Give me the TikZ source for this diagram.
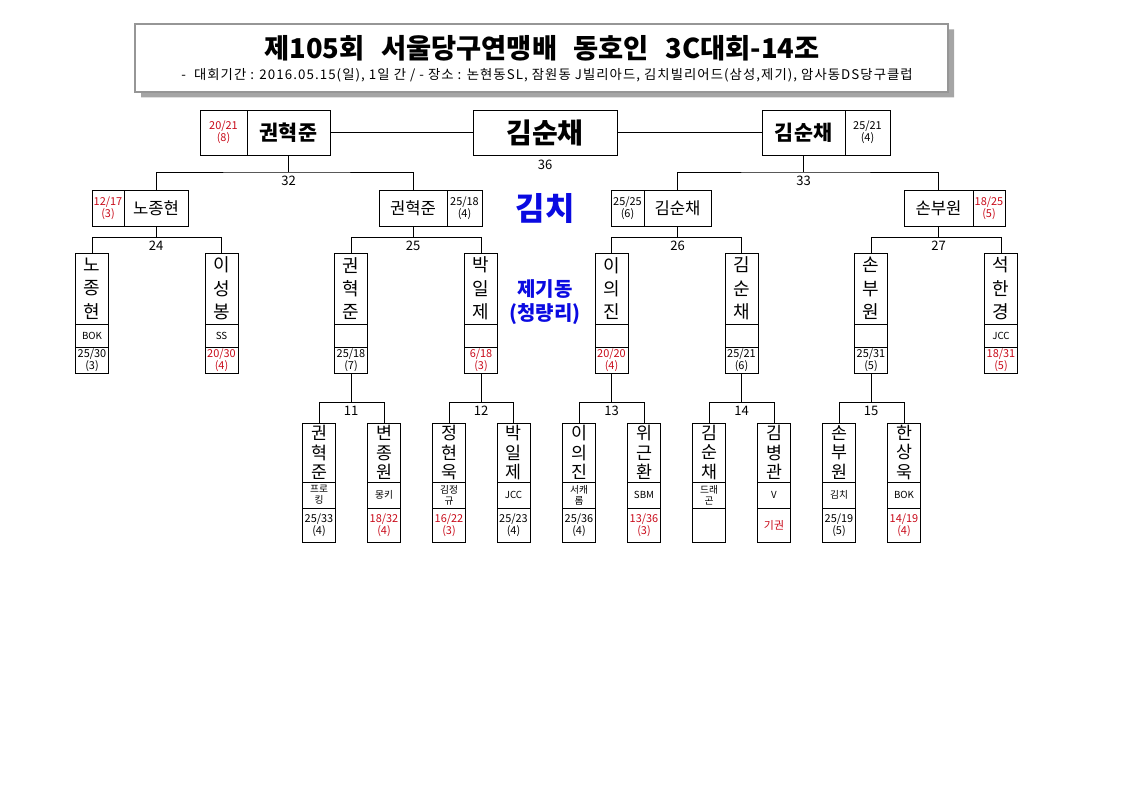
\documentclass[tikz,border=0pt]{standalone}
\usepackage{fontspec}
\setmainfont{Noto Sans CJK KR}
\newfontfamily\subfont[LetterSpace=8]{Noto Sans CJK KR}
\usetikzlibrary{shapes.misc,shadows}
\definecolor{losered}{RGB}{200,10,25}
\definecolor{venueblue}{RGB}{10,10,225}
\definecolor{framegray}{RGB}{150,150,150}
\definecolor{shadegray}{RGB}{165,165,165}

\begin{document}
\begin{tikzpicture}[x=0.75pt, y=-0.75pt,
    cell/.style 2 args={draw, line width=0.6pt, inner sep=0pt, align=center,
      minimum width=#1*0.75pt, minimum height=#2*0.75pt},
    head/.style={chamfered rectangle, chamfered rectangle xsep=3pt, chamfered rectangle ysep=3pt,
      draw=framegray, fill=white, line width=0.8pt, inner sep=0pt,
      minimum width=813*0.75pt, minimum height=68*0.75pt,
      drop shadow={shadow xshift=4.5pt, shadow yshift=-4pt, fill=shadegray, opacity=1}},
    bigname/.style={font=\fontsize{15.5}{17}\selectfont\bfseries},
    champ/.style={font=\fontsize{21}{23}\selectfont\bfseries},
    midname/.style={font=\fontsize{12.5}{14}\selectfont},
    colname/.style={font=\fontsize{13.5}{17.5}\selectfont},
    lowname/.style={font=\fontsize{13}{14.4}\selectfont},
    club/.style={font=\fontsize{7.3}{8.2}\selectfont},
    score/.style={font=\fontsize{8.2}{9}\selectfont},
    lose/.style={text=losered},
    num/.style={font=\fontsize{9.8}{11}\selectfont, inner sep=1pt},
    venue/.style={text=venueblue, align=center},
    link/.style={line width=0.6pt}
  ]
  \useasboundingbox (0,0) rectangle (1123,794);

  % heading
  \node[head] (hd) at (541.5,58) {};
  \node[font=\fontsize{20.5}{22}\selectfont\bfseries] (ttl) at (542,48)
    {제105회\hspace{0.6em}서울당구연맹배\hspace{0.6em}동호인\hspace{0.6em}3C대회-14조};
  \node[font=\fontsize{10}{11}\selectfont\subfont] (sub) at (547,75)
    {-\ \ 대회기간 : 2016.05.15(일), 1일 간 / - 장소 : 논현동SL, 잠원동 J빌리아드, 김치빌리어드(삼성,제기), 암사동DS당구클럽};

  % final
  \node[cell={47}{45}, score, lose] (w32s) at (223.5,132.5) {20/21\\(8)};
  \node[cell={83}{45}, bigname] (w32) at (288.5,132.5) {권혁준};
  \node[cell={144}{45}, champ] (w36) at (545,132.5) {김순채};
  \node[cell={83}{45}, bigname] (w33) at (803.5,132.5) {김순채};
  \node[cell={45}{45}, score] (w33s) at (867.5,132.5) {25/21\\(4)};
  \node[num] (l36) at (545,165) {36};

  % semi finals
  \node[cell={32}{36}, score, lose] (w24s) at (108,208) {12/17\\(3)};
  \node[cell={64}{36}, midname] (w24) at (156,208) {노종현};
  \node[cell={68}{36}, midname] (w25) at (413,208) {권혁준};
  \node[cell={35}{36}, score] (w25s) at (464.5,208) {25/18\\(4)};
  \node[cell={33}{36}, score] (w26s) at (627.5,208) {25/25\\(6)};
  \node[cell={67}{36}, midname] (w26) at (677.5,208) {김순채};
  \node[cell={69}{36}, midname] (w27) at (938.5,208) {손부원};
  \node[cell={32}{36}, score, lose] (w27s) at (989,208) {18/25\\(5)};

  \node[venue, font=\fontsize{24}{26}\selectfont\bfseries] (kc) at (545,208) {김치};
  \node[venue, font=\fontsize{15}{18}\selectfont\bfseries] (jg) at (545,302) {제기동\\(청량리)};

  % quarter finals
  \node[cell={33}{71}, colname] (q1) at (92,288.5) {노\\종\\현};
  \node[cell={33}{23}, club] (q1c) at (92,335.5) {BOK};
  \node[cell={33}{26}, score] (q1s) at (92,360) {25/30\\(3)};
  \node[cell={33}{71}, colname] (q2) at (221.5,288.5) {이\\성\\봉};
  \node[cell={33}{23}, club] (q2c) at (221.5,335.5) {SS};
  \node[cell={33}{26}, score, lose] (q2s) at (221.5,360) {20/30\\(4)};
  \node[cell={33}{71}, colname] (q3) at (351,288.5) {권\\혁\\준};
  \node[cell={33}{23}, club] (q3c) at (351,335.5) {};
  \node[cell={33}{26}, score] (q3s) at (351,360) {25/18\\(7)};
  \node[cell={33}{71}, colname] (q4) at (481,288.5) {박\\일\\제};
  \node[cell={33}{23}, club] (q4c) at (481,335.5) {};
  \node[cell={33}{26}, score, lose] (q4s) at (481,360) {6/18\\(3)};
  \node[cell={33}{71}, colname] (q5) at (611.5,288.5) {이\\의\\진};
  \node[cell={33}{23}, club] (q5c) at (611.5,335.5) {};
  \node[cell={33}{26}, score, lose] (q5s) at (611.5,360) {20/20\\(4)};
  \node[cell={33}{71}, colname] (q6) at (741.5,288.5) {김\\순\\채};
  \node[cell={33}{23}, club] (q6c) at (741.5,335.5) {};
  \node[cell={33}{26}, score] (q6s) at (741.5,360) {25/21\\(6)};
  \node[cell={33}{71}, colname] (q7) at (871,288.5) {손\\부\\원};
  \node[cell={33}{23}, club] (q7c) at (871,335.5) {};
  \node[cell={33}{26}, score] (q7s) at (871,360) {25/31\\(5)};
  \node[cell={33}{71}, colname] (q8) at (1001,288.5) {석\\한\\경};
  \node[cell={33}{23}, club] (q8c) at (1001,335.5) {JCC};
  \node[cell={33}{26}, score, lose] (q8s) at (1001,360) {18/31\\(5)};

  % first round
  \node[cell={33}{59}, lowname] (r1) at (319,452.5) {권\\혁\\준};
  \node[cell={33}{26}, club] (r1c) at (319,495) {프로\\킹};
  \node[cell={33}{34}, score] (r1s) at (319,525) {25/33\\(4)};
  \node[cell={33}{59}, lowname] (r2) at (384,452.5) {변\\종\\원};
  \node[cell={33}{26}, club] (r2c) at (384,495) {몽키};
  \node[cell={33}{34}, score, lose] (r2s) at (384,525) {18/32\\(4)};
  \node[cell={33}{59}, lowname] (r3) at (449,452.5) {정\\현\\욱};
  \node[cell={33}{26}, club] (r3c) at (449,495) {김정\\규};
  \node[cell={33}{34}, score, lose] (r3s) at (449,525) {16/22\\(3)};
  \node[cell={33}{59}, lowname] (r4) at (513.5,452.5) {박\\일\\제};
  \node[cell={33}{26}, club] (r4c) at (513.5,495) {JCC};
  \node[cell={33}{34}, score] (r4s) at (513.5,525) {25/23\\(4)};
  \node[cell={33}{59}, lowname] (r5) at (579,452.5) {이\\의\\진};
  \node[cell={33}{26}, club] (r5c) at (579,495) {서캐\\롬};
  \node[cell={33}{34}, score] (r5s) at (579,525) {25/36\\(4)};
  \node[cell={33}{59}, lowname] (r6) at (644,452.5) {위\\근\\환};
  \node[cell={33}{26}, club] (r6c) at (644,495) {SBM};
  \node[cell={33}{34}, score, lose] (r6s) at (644,525) {13/36\\(3)};
  \node[cell={33}{59}, lowname] (r7) at (709,452.5) {김\\순\\채};
  \node[cell={33}{26}, club] (r7c) at (709,495) {드래\\곤};
  \node[cell={33}{34}, score] (r7s) at (709,525) {};
  \node[cell={33}{59}, lowname] (r8) at (774,452.5) {김\\병\\관};
  \node[cell={33}{26}, club] (r8c) at (774,495) {V};
  \node[cell={33}{34}, score, lose] (r8s) at (774,525) {기권};
  \node[cell={33}{59}, lowname] (r9) at (839,452.5) {손\\부\\원};
  \node[cell={33}{26}, club] (r9c) at (839,495) {김치};
  \node[cell={33}{34}, score] (r9s) at (839,525) {25/19\\(5)};
  \node[cell={33}{59}, lowname] (r10) at (904,452.5) {한\\상\\욱};
  \node[cell={33}{26}, club] (r10c) at (904,495) {BOK};
  \node[cell={33}{34}, score, lose] (r10s) at (904,525) {14/19\\(4)};

  % bracket joints
  \coordinate (j32) at (w32.south |- 0,172);
  \coordinate (j33) at (w33.south |- 0,172);
  \coordinate (j24) at (w24.south |- 0,237);
  \coordinate (j25) at (w25.south |- 0,237);
  \coordinate (j26) at (w26.south |- 0,237);
  \coordinate (j27) at (w27.south |- 0,237);
  \coordinate (j11) at (q3s.south |- 0,402);
  \coordinate (j12) at (q4s.south |- 0,402);
  \coordinate (j13) at (q5s.south |- 0,402);
  \coordinate (j14) at (q6s.south |- 0,402);
  \coordinate (j15) at (q7s.south |- 0,402);

  \begin{scope}[link]
    \draw (w32.east) to (w36.west);
    \draw (w36.east) to (w33.west);
    \draw (w32.south) to (j32);
    \draw (w24.north) |- (j32) -| (w25.north);
    \draw (w33.south) to (j33);
    \draw (w26.north) |- (j33) -| (w27.north);
    \draw (w24.south) to (j24);
    \draw (q1.north) |- (j24) -| (q2.north);
    \draw (w25.south) to (j25);
    \draw (q3.north) |- (j25) -| (q4.north);
    \draw (w26.south) to (j26);
    \draw (q5.north) |- (j26) -| (q6.north);
    \draw (w27.south) to (j27);
    \draw (q7.north) |- (j27) -| (q8.north);
    \draw (q3s.south) to (j11);
    \draw (r1.north) |- (j11) -| (r2.north);
    \draw (q4s.south) to (j12);
    \draw (r3.north) |- (j12) -| (r4.north);
    \draw (q5s.south) to (j13);
    \draw (r5.north) |- (j13) -| (r6.north);
    \draw (q6s.south) to (j14);
    \draw (r7.north) |- (j14) -| (r8.north);
    \draw (q7s.south) to (j15);
    \draw (r9.north) |- (j15) -| (r10.north);
  \end{scope}

  % match numbers
  \node[num, below=2pt] (l32) at (j32) {32};
  \node[num, below=2pt] (l33) at (j33) {33};
  \node[num, below=2pt] (l24) at (j24) {24};
  \node[num, below=2pt] (l25) at (j25) {25};
  \node[num, below=2pt] (l26) at (j26) {26};
  \node[num, below=2pt] (l27) at (j27) {27};
  \node[num, below=2pt] (l11) at (j11) {11};
  \node[num, below=2pt] (l12) at (j12) {12};
  \node[num, below=2pt] (l13) at (j13) {13};
  \node[num, below=2pt] (l14) at (j14) {14};
  \node[num, below=2pt] (l15) at (j15) {15};
\end{tikzpicture}
\end{document}
